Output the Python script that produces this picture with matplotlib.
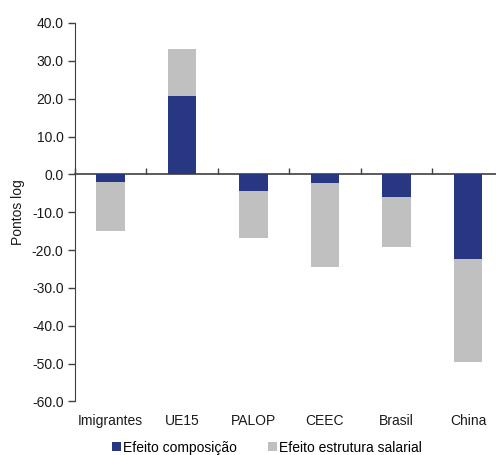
import matplotlib
matplotlib.use("Agg")
import matplotlib.pyplot as plt
import numpy as np

plt.rcParams['font.family'] = ['Liberation Sans', 'DejaVu Sans']
plt.rcParams['font.size'] = 10

categories = ["Imigrantes", "UE15", "PALOP", "CEEC", "Brasil", "China"]
composicao = [-2.1, 20.7, -4.5, -2.4, -6.1, -22.3]
estrutura = [-12.9, 12.4, -12.4, -22.1, -13.2, -27.3]
yticks = [40, 30, 20, 10, 0, -10, -20, -30, -40, -50, -60]

dark_blue = '#283782'
light_gray = '#c0c0c0'
axis_color = '#404040'
text_color = '#1a1a1a'

fig = plt.figure(figsize=(4.96, 4.55), dpi=100)
ax = fig.add_axes([0.1506, 0.1176, 0.865, 0.832])

x = np.arange(len(categories))
ax.bar(x, composicao, width=0.4, color=dark_blue, label='Efeito composição', zorder=2)
ax.bar(x, estrutura, width=0.4, bottom=composicao, color=light_gray,
       label='Efeito estrutura salarial', zorder=2)

ax.set_xlim(-0.5, len(categories) - 0.5)
ax.set_ylim(-60, 40)
ax.set_yticks(yticks)
ax.set_yticklabels([f"{v:.1f}" for v in yticks], color=text_color)
ax.tick_params(axis='y', direction='out', length=5, width=1, color=axis_color, pad=3)
ax.set_ylabel("Pontos log", color=text_color)
ax.yaxis.set_label_coords(-0.115, 0.5)

# category labels at the bottom, no ticks
ax.set_xticks(x)
ax.set_xticklabels(categories, color=text_color)
ax.tick_params(axis='x', length=0, pad=9)

for side in ['top', 'right', 'bottom']:
    ax.spines[side].set_visible(False)
ax.spines['left'].set_color(axis_color)

# zero line with tick marks between categories
secax = ax.secondary_xaxis(0.6)
secax.set_xticks(np.arange(len(categories) + 1) - 0.5)
secax.set_xticklabels([])
secax.tick_params(direction='out', length=4, width=1, color=axis_color)
secax.spines['bottom'].set_color(axis_color)
secax.spines['bottom'].set_linewidth(1.2)
secax.spines['top'].set_color(axis_color)
secax.spines['top'].set_linewidth(1.2)

fig.legend(loc='center', bbox_to_anchor=(0.538, 0.016), ncol=2, frameon=False,
           handlelength=0.65, handleheight=0.65, handletextpad=0.15,
           columnspacing=2.2, borderaxespad=0, fontsize=10)

fig.savefig("out.png", dpi=100)
